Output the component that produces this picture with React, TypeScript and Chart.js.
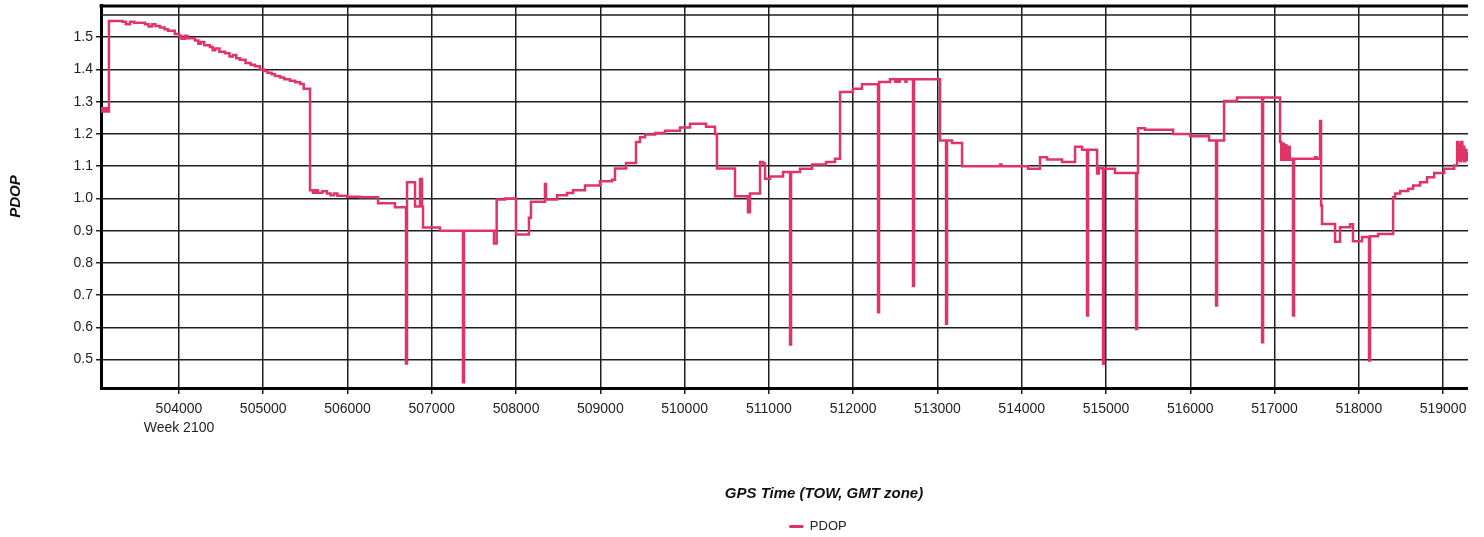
import { useEffect, useRef } from "react";
import { Chart, registerables } from "chart.js";

Chart.register(...registerables);

// ---- data (GPS time of week, seconds) ----
const towSeconds = [
  503075, 503088, 503100, 503112, 503125, 503138, 503150, 503162, 503169, 503330,
  503370, 503420, 503470, 503597, 503640, 503680, 503720, 503775, 503830, 503870,
  503950, 504000, 504030, 504070, 504100, 504190, 504230, 504260, 504300, 504368,
  504400, 504430, 504480, 504546, 504600, 504640, 504680, 504724, 504790, 504850,
  504902, 504960, 505010, 505050, 505100, 505139, 505200, 505250, 505317, 505380,
  505440, 505480, 505555, 505590, 505620, 505650, 505700, 505756, 505800, 505840,
  505880, 505994, 506150, 506362, 506563, 506694, 506706, 506801, 506860, 506884,
  506896, 507097, 507370, 507382, 507738, 507770, 507869, 507999, 508153, 508177,
  508343, 508355, 508486, 508604, 508676, 508818, 508996, 509138, 509174, 509305,
  509423, 509471, 509530, 509649, 509767, 509945, 510064, 510254, 510361, 510384,
  510598, 510752, 510775, 510895, 510930, 510954, 511013, 511168, 511251, 511263,
  511369, 511512, 511678, 511785, 511844, 511998, 512105, 512295, 512307, 512437,
  512500, 512512, 512540, 512552, 512620, 512632, 512710, 512722, 513031, 513102,
  513114, 513173, 513292, 513743, 513760, 514075, 514217, 514301, 514479, 514633,
  514716, 514775, 514787, 514894, 514915, 514965, 514977, 515107, 515357, 515369,
  515380, 515464, 515796, 515998, 516223, 516306, 516318, 516401, 516555, 516852,
  516864, 517065, 517080, 517095, 517110, 517125, 517140, 517160, 517180, 517207,
  517219, 517231, 517480, 517500, 517540, 517552, 517563, 517718, 517777, 517896,
  517931, 518038, 518121, 518133, 518229, 518407, 518431, 518490, 518585, 518644,
  518727, 518810, 518894, 519013, 519131, 519167, 519180, 519192, 519204, 519216,
  519228, 519240, 519252, 519264, 519276, 519290, 519300,
];

const pdopValues = [
  1.28, 1.27, 1.28, 1.27, 1.28, 1.27, 1.28, 1.27, 1.55, 1.548,
  1.54, 1.548, 1.545, 1.54, 1.533, 1.54, 1.535, 1.53, 1.525, 1.52,
  1.51, 1.505, 1.495, 1.505, 1.497, 1.49, 1.48, 1.485, 1.475, 1.47,
  1.46, 1.465, 1.455, 1.45, 1.44, 1.445, 1.435, 1.43, 1.42, 1.415,
  1.41, 1.4, 1.395, 1.39, 1.385, 1.38, 1.375, 1.37, 1.365, 1.36,
  1.355, 1.34, 1.025, 1.018, 1.025, 1.018, 1.022, 1.015, 1.01, 1.015,
  1.008, 1.005, 1.004, 0.985, 0.973, 0.488, 1.05, 0.975, 1.06, 0.975,
  0.91, 0.9, 0.43, 0.9, 0.86, 0.997, 1.0, 0.888, 0.94, 0.99,
  1.045, 0.997, 1.01, 1.017, 1.025, 1.04, 1.053, 1.058, 1.093, 1.11,
  1.175, 1.19, 1.198, 1.203, 1.21, 1.22, 1.232, 1.222, 1.2, 1.093,
  1.007, 0.957, 1.015, 1.113, 1.108, 1.061, 1.068, 1.082, 0.547, 1.082,
  1.092, 1.105, 1.113, 1.123, 1.33, 1.34, 1.354, 0.647, 1.361, 1.37,
  1.362, 1.37, 1.362, 1.37, 1.362, 1.37, 0.728, 1.37, 1.18, 0.611,
  1.18, 1.172, 1.1, 1.105, 1.1, 1.092, 1.128, 1.121, 1.113, 1.16,
  1.151, 0.637, 1.151, 1.077, 1.094, 0.487, 1.092, 1.079, 0.595, 1.079,
  1.218, 1.213, 1.2, 1.193, 1.18, 0.668, 1.18, 1.302, 1.313, 0.554,
  1.313, 1.175, 1.12, 1.17, 1.12, 1.165, 1.12, 1.16, 1.12, 1.123,
  0.637, 1.123, 1.128, 1.123, 1.24, 0.978, 0.921, 0.866, 0.911, 0.92,
  0.867, 0.88, 0.497, 0.883, 0.89, 1.004, 1.015, 1.023, 1.03, 1.04,
  1.05, 1.066, 1.079, 1.092, 1.102, 1.175, 1.12, 1.17, 1.115, 1.175,
  1.12, 1.16, 1.115, 1.15, 1.12, 1.14, 1.14,
];

const xTickValues = [
  504000, 505000, 506000, 507000, 508000, 509000, 510000, 511000, 512000,
  513000, 514000, 515000, 516000, 517000, 518000, 519000, 520000,
];
const yTickValues = [0.5, 0.6, 0.7, 0.8, 0.9, 1.0, 1.1, 1.2, 1.3, 1.4, 1.5];
const firstTickSubLabel = "Week 2100";
const seriesLabel = "PDOP";
const xAxisTitle = "GPS Time (TOW, GMT zone)";
const yAxisTitle = "PDOP";
const xMin = 503075;
const xMax = 520233;
const yMin = 0.412;
const yMax = 1.6;
const topRuleValue = 1.569;

const lineColor = "#DF3468";
const gridColor = "#1e1e1e";
const textColor = "#222";
const fontFamily = "'Liberation Sans', Arial, sans-serif";

const framePlugin = {
  id: "frame",
  afterDraw(chart: any) {
    const { ctx, chartArea } = chart;
    const { left, right, top } = chartArea;
    const y = chart.scales.y;
    ctx.save();
    ctx.strokeStyle = "#000";
    ctx.lineWidth = 3;
    ctx.beginPath();
    ctx.moveTo(left - 1.5, top + 1);
    ctx.lineTo(right, top + 1);
    ctx.stroke();
    const ry = y.getPixelForValue(topRuleValue);
    ctx.strokeStyle = gridColor;
    ctx.lineWidth = 1.5;
    ctx.beginPath();
    ctx.moveTo(left, ry);
    ctx.lineTo(right, ry);
    ctx.stroke();
    ctx.restore();
  },
};

export default function App() {
  const canvasRef = useRef<HTMLCanvasElement>(null);

  useEffect(() => {
    const points = towSeconds.map((t, i) => ({ x: t, y: pdopValues[i] }));
    const chart = new Chart(canvasRef.current as HTMLCanvasElement, {
      type: "line",
      data: {
        datasets: [
          {
            label: seriesLabel,
            data: points,
            borderColor: lineColor,
            backgroundColor: lineColor,
            borderWidth: 2.5,
            pointRadius: 0,
            stepped: true,
            fill: false,
          },
        ],
      },
      options: {
        animation: false,
        responsive: false,
        devicePixelRatio: 1,
        layout: { padding: { top: 5, left: 0, right: 0, bottom: 0 } },
        plugins: {
          tooltip: { enabled: false },
          legend: {
            position: "bottom",
            labels: {
              boxWidth: 14,
              boxHeight: 3,
              padding: 10,
              color: textColor,
              font: { family: fontFamily, size: 13 },
              generateLabels: (c: any) =>
                Chart.defaults.plugins.legend.labels
                  .generateLabels(c)
                  .map((l: any) => ({ ...l, lineWidth: 0, fillStyle: lineColor })),
            },
          },
        },
        scales: {
          x: {
            type: "linear",
            min: xMin,
            max: xMax,
            afterBuildTicks: (s: any) => {
              s.ticks = xTickValues.map((v) => ({ value: v }));
            },
            afterFit: (s: any) => {
              s.height = 122;
              s.paddingLeft = 0;
              s.paddingRight = 0;
            },
            ticks: {
              autoSkip: false,
              maxRotation: 0,
              padding: 6,
              color: textColor,
              font: { family: fontFamily, size: 14, lineHeight: 1.36 },
              callback: (v: any) =>
                v === xTickValues[0] ? [String(v), firstTickSubLabel] : String(v),
            },
            grid: { color: gridColor, lineWidth: 1.5, tickLength: 6, drawTicks: true },
            border: { display: true, color: "#000", width: 3 },
            title: {
              display: true,
              text: xAxisTitle,
              color: "#111",
              font: { family: fontFamily, size: 15, weight: "bold", style: "italic", lineHeight: 1.2 },
              padding: { top: 0, bottom: 7 },
            },
          },
          y: {
            type: "linear",
            min: yMin,
            max: yMax,
            afterBuildTicks: (s: any) => {
              s.ticks = yTickValues.map((v) => ({ value: v }));
            },
            afterFit: (s: any) => {
              s.width = 101;
              s.paddingTop = 0;
              s.paddingBottom = 0;
            },
            ticks: {
              padding: 3,
              color: textColor,
              font: { family: fontFamily, size: 14 },
              callback: (v: any) => Number(v).toFixed(1),
            },
            grid: { color: gridColor, lineWidth: 1.5, tickLength: 5 },
            border: { display: true, color: "#000", width: 3 },
            title: {
              display: true,
              text: yAxisTitle,
              color: "#111",
              font: { family: fontFamily, size: 15, weight: "bold", style: "italic", lineHeight: 1.2 },
              padding: { top: 7, bottom: 0 },
            },
          },
          yRight: {
            type: "linear",
            position: "right",
            display: true,
            grid: { display: false },
            ticks: { display: false },
            border: { display: false },
            afterFit: (s: any) => {
              s.width = 89;
              s.paddingTop = 0;
              s.paddingBottom = 0;
            },
          },
        },
      },
      plugins: [framePlugin],
    } as any);
    return () => chart.destroy();
  }, []);

  return (
    <div
      style={{
        position: "fixed",
        left: 0,
        top: 0,
        width: 1468,
        height: 537,
        overflow: "hidden",
        background: "#fff",
      }}
    >
      <canvas
        ref={canvasRef}
        width={1636}
        height={543}
        style={{ display: "block", width: 1636, height: 543 }}
      />
    </div>
  );
}
